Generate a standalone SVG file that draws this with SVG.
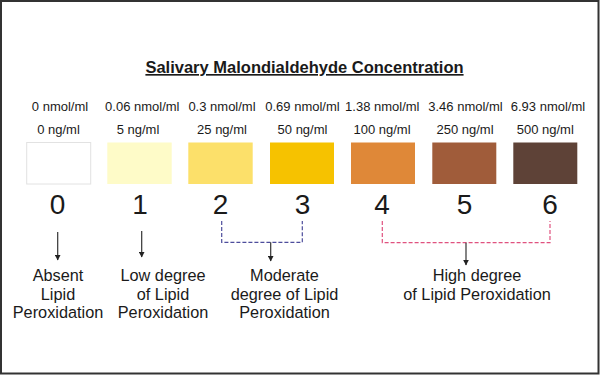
<svg xmlns="http://www.w3.org/2000/svg" width="600" height="375" viewBox="0 0 600 375">
<style>
text{font-family:"Liberation Sans",Arial,sans-serif;fill:#1a1a1a;text-anchor:middle}
.t{font-size:16.5px;font-weight:bold;text-decoration:underline}
.v{font-size:13px}
.d{font-size:28px}
.l{font-size:16.3px}
.arr{stroke:#333;stroke-width:1.2;fill:none;marker-end:url(#ah)}
.br{fill:none;stroke-width:1.2;stroke-dasharray:4 2}
</style>
<defs>
<marker id="ah" viewBox="0 0 10 10" refX="9" refY="5" markerWidth="6" markerHeight="6" orient="auto" markerUnits="userSpaceOnUse">
<path d="M0,0 L10,5 L0,10 z" fill="#222"/>
</marker>
</defs>
<rect x="1" y="1" width="597.5" height="372.5" fill="#fff" stroke="#333" stroke-width="2"/>
<text id="title" class="t" x="304.5" y="73">Salivary Malondialdehyde Concentration</text>
<g id="c0"><text class="v" x="60" y="111">0 nmol/ml</text><text class="v" x="58.5" y="134">0 ng/ml</text><rect x="26.7" y="142.5" width="64" height="41.5" fill="#fff" stroke="#e2e2e2"/><text class="d" x="57.5" y="214">0</text></g>
<g id="c1"><text class="v" x="142.3" y="111">0.06 nmol/ml</text><text class="v" x="138" y="134">5 ng/ml</text><rect x="107.3" y="142.5" width="64.4" height="41.5" fill="#fefbc8"/><text class="d" x="140" y="214">1</text></g>
<g id="c2"><text class="v" x="222" y="111">0.3 nmol/ml</text><text class="v" x="222" y="134">25 ng/ml</text><rect x="188.3" y="142.5" width="64.4" height="41.5" fill="#fce06a"/><text class="d" x="220.5" y="214">2</text></g>
<g id="c3"><text class="v" x="302.5" y="111">0.69 nmol/ml</text><text class="v" x="302.5" y="134">50 ng/ml</text><rect x="270" y="142.5" width="64" height="41.5" fill="#f6c200"/><text class="d" x="302.5" y="214">3</text></g>
<g id="c4"><text class="v" x="382.3" y="111">1.38 nmol/ml</text><text class="v" x="382" y="134">100 ng/ml</text><rect x="351" y="142.5" width="64" height="41.5" fill="#df8838"/><text class="d" x="382" y="214">4</text></g>
<g id="c5"><text class="v" x="465.5" y="111">3.46 nmol/ml</text><text class="v" x="465" y="134">250 ng/ml</text><rect x="432.3" y="142.5" width="64" height="41.5" fill="#a05c3a"/><text class="d" x="464.5" y="214">5</text></g>
<g id="c6"><text class="v" x="548" y="111">6.93 nmol/ml</text><text class="v" x="545.3" y="134">500 ng/ml</text><rect x="513.3" y="142.5" width="64" height="41.5" fill="#5e4237"/><text class="d" x="550" y="214">6</text></g>
<g id="connectors">
<line class="arr" x1="57.7" y1="232" x2="57.7" y2="260"/>
<line class="arr" x1="141.7" y1="231" x2="141.7" y2="257"/>
<polyline class="br" stroke="#4d4d9c" points="221.7,221 221.7,242.3 302.3,242.3 302.3,221"/>
<line class="arr" x1="270.7" y1="242.3" x2="270.7" y2="261"/>
<polyline class="br" stroke="#e0527f" points="382.3,221 382.3,242.7 550,242.7 550,221"/>
<line class="arr" x1="466" y1="242.7" x2="466" y2="265"/>
</g>
<g id="lab0"><text class="l" x="58" y="281">Absent</text><text class="l" x="58" y="299.5">Lipid</text><text class="l" x="58" y="318">Peroxidation</text></g>
<g id="lab1"><text class="l" x="163" y="281">Low degree</text><text class="l" x="163" y="299.5">of Lipid</text><text class="l" x="163" y="318">Peroxidation</text></g>
<g id="lab2"><text class="l" x="284.5" y="281">Moderate</text><text class="l" x="284.5" y="299.5">degree of Lipid</text><text class="l" x="284.5" y="318">Peroxidation</text></g>
<g id="lab3"><text class="l" x="477" y="281">High degree</text><text class="l" x="477" y="299.5">of Lipid Peroxidation</text></g>
</svg>
